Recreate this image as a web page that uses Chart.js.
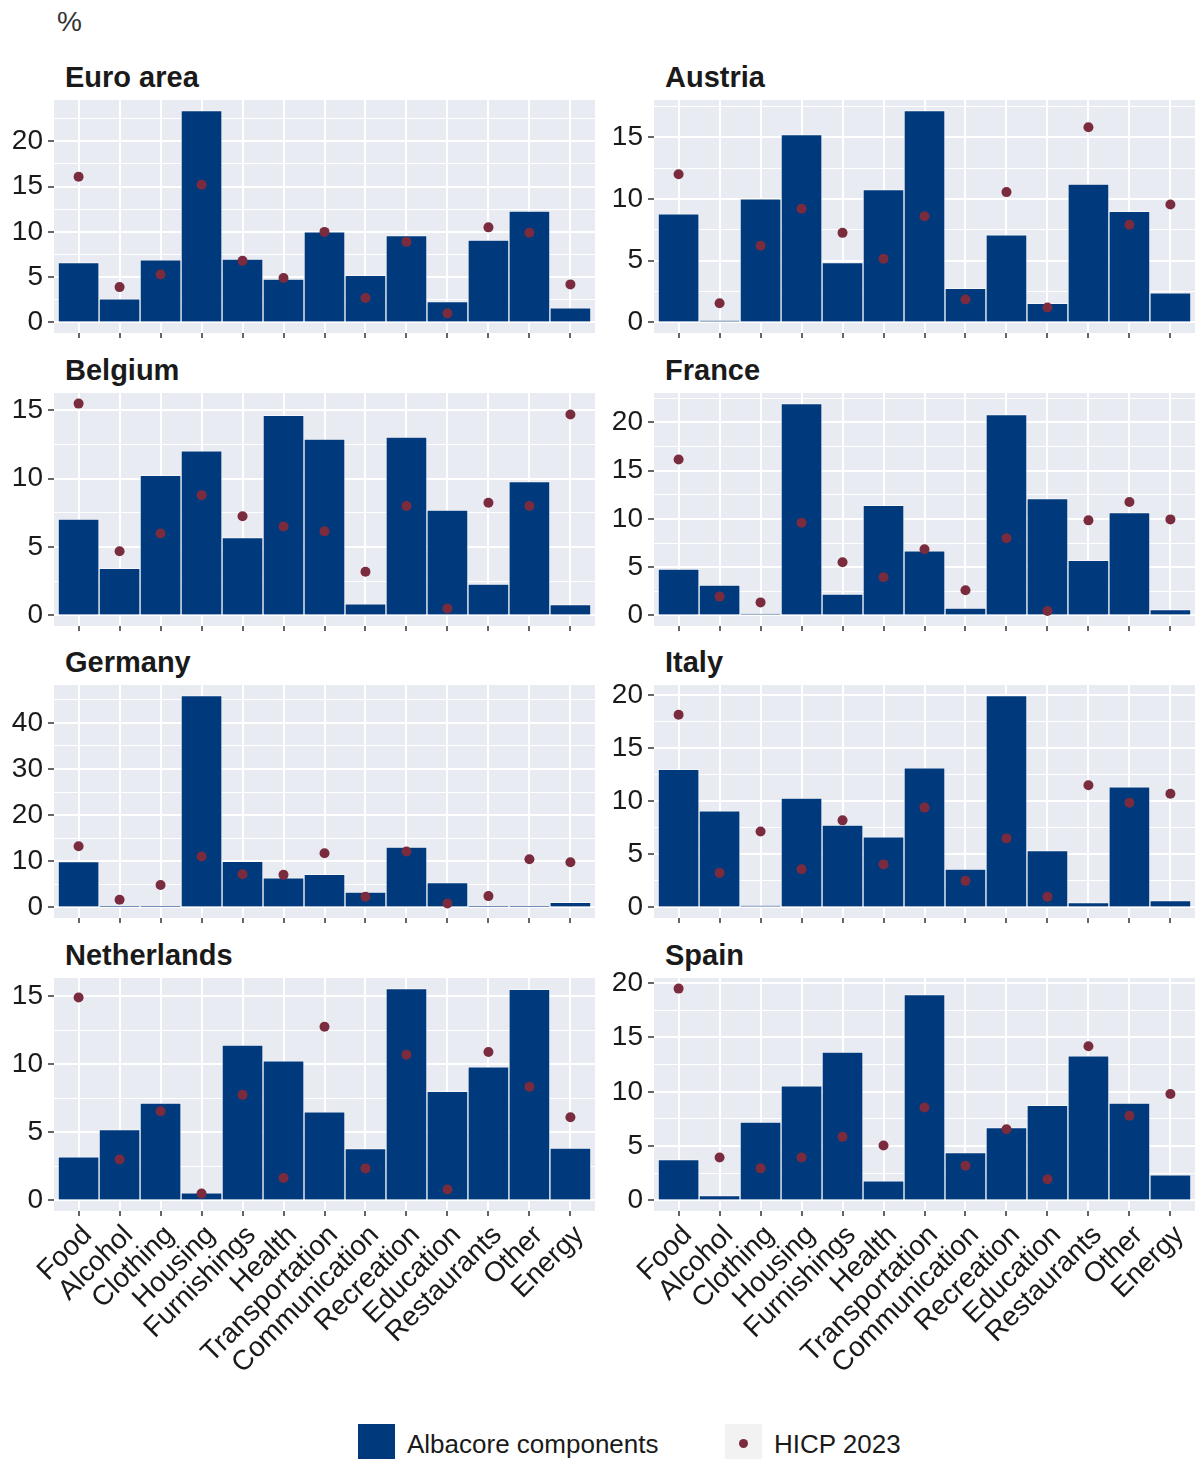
<!DOCTYPE html>
<html>
<head>
<meta charset="utf-8">
<script src="https://cdn.jsdelivr.net/npm/chart.js@4.4.1/dist/chart.umd.min.js"></script>
<style>
  html, body { margin: 0; padding: 0; background: #ffffff; }
  body { position: relative; width: 1200px; height: 1459px; overflow: hidden;
         font-family: "Liberation Sans", Arial, Helvetica, sans-serif; }
  .panel-title { position: absolute; font-weight: bold; font-size: 29px; line-height: 29px; color: #1a1a1a; white-space: nowrap; }
  .panel-box { position: absolute; width: 600px; }
  .unit { position: absolute; left: 57px; top: 8px; font-size: 28px; line-height: 28px; color: #333; }
  .key { position: absolute; width: 37px; height: 37px; }
  .key-label { position: absolute; font-size: 26px; line-height: 26px; color: #1a1a1a; white-space: nowrap; }
</style>
</head>
<body>
<div class="unit">%</div>

<div class="key" style="left:358px; top:1424px; background:#003a7d;"></div>
<div class="key-label" style="left:407px; top:1431px;">Albacore components</div>
<div class="key" style="left:725px; top:1424px; background:#f2f2f2;">
  <div style="position:absolute; left:13.5px; top:14.5px; width:9px; height:9px; border-radius:50%; background:#7a2c3e;"></div>
</div>
<div class="key-label" style="left:774px; top:1431px;">HICP 2023</div>

<script>
// Consumption categories shown on the x axis of every panel
const categories = ['Food', 'Alcohol', 'Clothing', 'Housing', 'Furnishings', 'Health',
  'Transportation', 'Communication', 'Recreation', 'Education', 'Restaurants', 'Other', 'Energy'];

// Share of each category (%): Albacore components (bars) and HICP 2023 weights (dots)
const albacoreEuroArea = [6.6, 2.6, 6.9, 23.4, 7.0, 4.8, 10.0, 5.2, 9.6, 2.3, 9.1, 12.3, 1.6];
const hicpEuroArea     = [16.1, 3.9, 5.3, 15.2, 6.8, 4.9, 10.0, 2.7, 8.9, 1.0, 10.5, 9.9, 4.2];
const ticksEuroArea    = [0, 5, 10, 15, 20];

const albacoreAustria = [8.8, 0.15, 10.0, 15.2, 4.85, 10.75, 17.15, 2.75, 7.1, 1.55, 11.2, 9.0, 2.4];
const hicpAustria     = [12.0, 1.55, 6.2, 9.2, 7.25, 5.15, 8.6, 1.85, 10.55, 1.2, 15.8, 7.9, 9.55];
const ticksAustria    = [0, 5, 10, 15];

const albacoreBelgium = [7.05, 3.45, 10.25, 12.05, 5.7, 14.65, 12.9, 0.85, 13.05, 7.7, 2.3, 9.8, 0.8];
const hicpBelgium     = [15.5, 4.7, 6.0, 8.8, 7.25, 6.5, 6.15, 3.2, 8.0, 0.5, 8.25, 8.0, 14.7];
const ticksBelgium    = [0, 5, 10, 15];

const albacoreFrance = [4.8, 3.15, 0.15, 21.95, 2.2, 11.4, 6.7, 0.75, 20.8, 12.1, 5.7, 10.65, 0.6];
const hicpFrance     = [16.15, 1.95, 1.35, 9.6, 5.5, 3.95, 6.85, 2.6, 8.0, 0.45, 9.85, 11.75, 9.95];
const ticksFrance    = [0, 5, 10, 15, 20];

const albacoreGermany = [9.95, 0.3, 0.3, 45.9, 10.0, 6.4, 7.15, 3.3, 13.1, 5.4, 0.25, 0.25, 1.1];
const hicpGermany     = [13.25, 1.65, 4.85, 11.05, 7.2, 7.05, 11.75, 2.3, 12.1, 0.85, 2.45, 10.45, 9.8];
const ticksGermany    = [0, 10, 20, 30, 40];

const albacoreItaly = [13.0, 9.1, 0.15, 10.3, 7.75, 6.65, 13.15, 3.6, 19.95, 5.35, 0.45, 11.35, 0.65];
const hicpItaly     = [18.15, 3.25, 7.15, 3.6, 8.2, 4.05, 9.4, 2.5, 6.5, 1.0, 11.5, 9.85, 10.7];
const ticksItaly    = [0, 5, 10, 15, 20];

const albacoreNetherlands = [3.2, 5.2, 7.15, 0.55, 11.4, 10.25, 6.5, 3.8, 15.55, 8.0, 9.8, 15.5, 3.85];
const hicpNetherlands     = [14.9, 3.0, 6.55, 0.5, 7.75, 1.65, 12.75, 2.35, 10.7, 0.8, 10.9, 8.35, 6.1];
const ticksNetherlands    = [0, 5, 10, 15];

const albacoreSpain = [3.75, 0.45, 7.2, 10.55, 13.65, 1.8, 18.95, 4.4, 6.7, 8.75, 13.3, 8.95, 2.35];
const hicpSpain     = [19.5, 3.95, 2.95, 3.95, 5.85, 5.05, 8.55, 3.2, 6.55, 1.95, 14.2, 7.8, 9.8];
const ticksSpain    = [0, 5, 10, 15, 20];

const panels = [
  { name: 'Euro area',   bars: albacoreEuroArea,    dots: hicpEuroArea,    ticks: ticksEuroArea },
  { name: 'Austria',     bars: albacoreAustria,     dots: hicpAustria,     ticks: ticksAustria },
  { name: 'Belgium',     bars: albacoreBelgium,     dots: hicpBelgium,     ticks: ticksBelgium },
  { name: 'France',      bars: albacoreFrance,      dots: hicpFrance,      ticks: ticksFrance },
  { name: 'Germany',     bars: albacoreGermany,     dots: hicpGermany,     ticks: ticksGermany },
  { name: 'Italy',       bars: albacoreItaly,       dots: hicpItaly,       ticks: ticksItaly },
  { name: 'Netherlands', bars: albacoreNetherlands, dots: hicpNetherlands, ticks: ticksNetherlands },
  { name: 'Spain',       bars: albacoreSpain,       dots: hicpSpain,       ticks: ticksSpain }
];

// Layout of the 2 x 4 facet grid
const PANEL_H = 233;
const ROW_STEP = 292.5;
const FIRST_PANEL_TOP = 100;
const TOP_PAD = 20;
const Y_AXIS_W = 54;
const BAR_BLUE = '#003a7d';
const DOT_RED = '#7a2c3e';
const PANEL_BG = '#e9ebf2';

Chart.defaults.font.family = '"Liberation Sans", Arial, Helvetica, sans-serif';
Chart.defaults.color = '#333333';

// Grey panel background behind grid and marks
const panelBackground = {
  id: 'panelBackground',
  beforeDraw(chart) {
    const { ctx, chartArea: a } = chart;
    ctx.save();
    ctx.fillStyle = PANEL_BG;
    ctx.fillRect(a.left, a.top, a.right - a.left, a.bottom - a.top);
    ctx.restore();
  }
};

function dropPadding(scale) {
  scale.paddingTop = 0; scale.paddingBottom = 0;
  scale.paddingLeft = 0; scale.paddingRight = 0;
}

panels.forEach((p, i) => {
  const col = i % 2;
  const row = Math.floor(i / 2);
  const isBottom = row === 3;
  const xAxisH = isBottom ? 200 : 14;
  const panelTop = FIRST_PANEL_TOP + row * ROW_STEP;

  const title = document.createElement('div');
  title.className = 'panel-title';
  title.textContent = p.name;
  title.style.left = (col * 600 + 65) + 'px';
  title.style.top = (panelTop - 37) + 'px';
  document.body.appendChild(title);

  const box = document.createElement('div');
  box.className = 'panel-box';
  box.style.left = (col * 600) + 'px';
  box.style.top = (panelTop - TOP_PAD) + 'px';
  box.style.height = (TOP_PAD + PANEL_H + xAxisH) + 'px';
  const canvas = document.createElement('canvas');
  box.appendChild(canvas);
  document.body.appendChild(box);

  // free y scale with 5% expansion on both sides
  const peak = Math.max(...p.bars, ...p.dots);
  const yMin = -0.05 * peak;
  const yMax = 1.05 * peak;
  const step = p.ticks[1] - p.ticks[0];
  const majors = new Set(p.ticks);
  const gridVals = [...p.ticks];
  p.ticks.forEach(t => { if (t + step / 2 < yMax) gridVals.push(t + step / 2); });
  if (p.ticks[0] - step / 2 > yMin) gridVals.push(p.ticks[0] - step / 2);
  gridVals.sort((a, b) => a - b);

  new Chart(canvas, {
    type: 'bar',
    data: {
      datasets: [
        {
          type: 'line',
          label: 'HICP 2023',
          data: p.dots.map((v, k) => ({ x: k, y: v })),
          showLine: false,
          pointRadius: 5,
          pointHoverRadius: 5,
          pointBackgroundColor: DOT_RED,
          pointBorderWidth: 0,
          order: 0
        },
        {
          type: 'bar',
          label: 'Albacore components',
          data: p.bars.map((v, k) => ({ x: k, y: v })),
          backgroundColor: BAR_BLUE,
          borderColor: 'rgba(255,255,255,0.55)',
          borderWidth: 1,
          barPercentage: 1,
          categoryPercentage: 1,
          order: 1
        }
      ]
    },
    options: {
      responsive: true,
      maintainAspectRatio: false,
      animation: false,
      devicePixelRatio: 1,
      layout: { padding: { top: TOP_PAD, left: 0, right: col === 0 ? 2 : 3, bottom: 0 } },
      plugins: { legend: { display: false }, tooltip: { enabled: false } },
      scales: {
        x: {
          type: 'linear',
          min: -0.6,
          max: 12.6,
          offset: false,
          border: { display: false },
          grid: {
            offset: false,
            color: '#ffffff',
            lineWidth: 2,
            drawTicks: true,
            tickLength: 5,
            tickColor: '#333333',
            tickWidth: 1.5
          },
          ticks: {
            autoSkip: false,
            minRotation: 45,
            maxRotation: 45,
            padding: 3,
            labelOffset: 9,
            color: '#1a1a1a',
            font: { size: 28 },
            callback: v => (isBottom ? categories[v] : '')
          },
          afterBuildTicks: s => { s.ticks = categories.map((c, k) => ({ value: k })); },
          afterFit: s => { s.height = xAxisH; dropPadding(s); }
        },
        y: {
          type: 'linear',
          min: yMin,
          max: yMax,
          border: { display: false },
          grid: {
            color: '#ffffff',
            lineWidth: c => (majors.has(c.tick.value) ? 2 : 1),
            drawTicks: true,
            tickLength: 6,
            tickColor: c => (majors.has(c.tick.value) ? '#333333' : 'rgba(0,0,0,0)'),
            tickWidth: 1.5
          },
          ticks: {
            autoSkip: false,
            padding: 5,
            color: '#1a1a1a',
            font: { size: 28 },
            callback: v => (majors.has(v) ? String(v) : '')
          },
          afterBuildTicks: s => { s.ticks = gridVals.map(v => ({ value: v })); },
          afterFit: s => { s.width = Y_AXIS_W; dropPadding(s); }
        }
      }
    },
    plugins: [panelBackground]
  });
});
</script>
</body>
</html>
